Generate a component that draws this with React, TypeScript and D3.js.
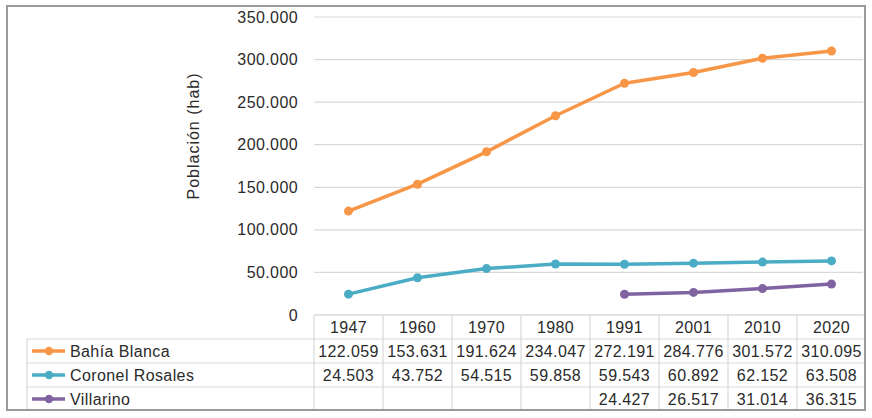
import React from "react";
import * as d3 from "d3";

const years = ["1947", "1960", "1970", "1980", "1991", "2001", "2010", "2020"];
const bahiaBlanca: (number | null)[] = [122059, 153631, 191624, 234047, 272191, 284776, 301572, 310095];
const coronelRosales: (number | null)[] = [24503, 43752, 54515, 59858, 59543, 60892, 62152, 63508];
const villarino: (number | null)[] = [null, null, null, null, 24427, 26517, 31014, 36315];
const yTicks = [0, 50000, 100000, 150000, 200000, 250000, 300000, 350000];

const series = [
  { name: "Bahía Blanca", values: bahiaBlanca, color: "#F79646" },
  { name: "Coronel Rosales", values: coronelRosales, color: "#4BACC6" },
  { name: "Villarino", values: villarino, color: "#8064A2" },
];

const W = 872;
const H = 418;
const plotLeft = 314;
const plotRight = 866;
const plotTop = 17;
const plotBottom = 315;
const tableLeft = 27;
const rowH = 24;
const frame = { x: 7, y: 6, w: 858, h: 404 };

const fmt = (v: number) => d3.format(",")(v).replace(/,/g, ".");

export default function App() {
  const x = d3.scaleBand<string>().domain(years).range([plotLeft, plotRight]);
  const y = d3.scaleLinear().domain([0, 350000]).range([plotBottom, plotTop]);
  const line = d3
    .line<number | null>()
    .defined((d) => d !== null)
    .x((_, i) => (x(years[i]) as number) + x.bandwidth() / 2)
    .y((d) => y(d as number));

  const textColor = "#2b2b2b";
  const gridColor = "#d9d9d9";
  const font = "'Liberation Sans', Arial, sans-serif";

  const headerTop = plotBottom;
  const rowsTop = headerTop + rowH;
  const tableBottom = rowsTop + rowH * series.length;

  return (
    <div style={{ position: "absolute", left: 0, top: 0 }}>
      <svg width={W} height={H} style={{ display: "block", fontFamily: font }}>
        <rect x={0} y={0} width={W} height={H} fill="#fff" />
        {/* gridlines */}
        {yTicks.map((t) => (
          <line key={t} x1={plotLeft} x2={plotRight - 3} y1={y(t)} y2={y(t)} stroke={gridColor} strokeWidth={1.2} />
        ))}
        {/* y tick labels */}
        {yTicks.map((t) => (
          <text key={"l" + t} x={298} y={y(t)} dy="0.35em" textAnchor="end" fontSize={16} fill={textColor} letterSpacing={0.4}>
            {t === 0 ? "0" : fmt(t)}
          </text>
        ))}
        {/* y axis title */}
        <text
          transform={`translate(199,136) rotate(-90)`}
          textAnchor="middle"
          fontSize={16}
          fill={textColor}
          letterSpacing={1}
        >
          Población (hab)
        </text>

        {/* table lines */}
        <line x1={plotLeft} x2={plotRight} y1={headerTop} y2={headerTop} stroke={gridColor} strokeWidth={1.2} />
        {series.map((s, i) => (
          <line key={"r" + i} x1={tableLeft} x2={plotRight} y1={rowsTop + rowH * i} y2={rowsTop + rowH * i} stroke={gridColor} strokeWidth={1.2} />
        ))}
        <line x1={tableLeft} x2={tableLeft} y1={rowsTop} y2={tableBottom} stroke={gridColor} strokeWidth={1.2} />
        {years.map((yr) => (
          <line key={"v" + yr} x1={x(yr)} x2={x(yr)} y1={headerTop} y2={tableBottom} stroke={gridColor} strokeWidth={1.2} />
        ))}
        {/* header years */}
        {years.map((yr) => (
          <text key={"h" + yr} x={(x(yr) as number) + x.bandwidth() / 2} y={headerTop + rowH / 2} dy="0.35em" textAnchor="middle" fontSize={16} fill={textColor} letterSpacing={0.4}>
            {yr}
          </text>
        ))}
        {/* rows */}
        {series.map((s, i) => {
          const cy = rowsTop + rowH * i + rowH / 2;
          return (
            <g key={"row" + s.name}>
              <line x1={32} x2={65} y1={cy} y2={cy} stroke={s.color} strokeWidth={3.5} />
              <circle cx={49} cy={cy} r={4.2} fill={s.color} />
              <text x={70} y={cy} dy="0.35em" fontSize={16} fill={textColor} letterSpacing={0.4}>
                {s.name}
              </text>
              {s.values.map((v, j) =>
                v === null ? null : (
                  <text key={j} x={(x(years[j]) as number) + x.bandwidth() / 2} y={cy} dy="0.35em" textAnchor="middle" fontSize={16} fill={textColor} letterSpacing={0.4}>
                    {fmt(v)}
                  </text>
                )
              )}
            </g>
          );
        })}

        {/* series lines */}
        {series.map((s) => (
          <g key={"s" + s.name}>
            <path d={line(s.values) || ""} fill="none" stroke={s.color} strokeWidth={3.5} strokeLinejoin="round" />
            {s.values.map((v, j) =>
              v === null ? null : (
                <circle key={j} cx={(x(years[j]) as number) + x.bandwidth() / 2} cy={y(v)} r={4.5} fill={s.color} />
              )
            )}
          </g>
        ))}

        {/* outer frame */}
        <rect x={frame.x} y={frame.y} width={frame.w} height={frame.h} fill="none" stroke="#9a9a9a" strokeWidth={2} />
      </svg>
    </div>
  );
}
